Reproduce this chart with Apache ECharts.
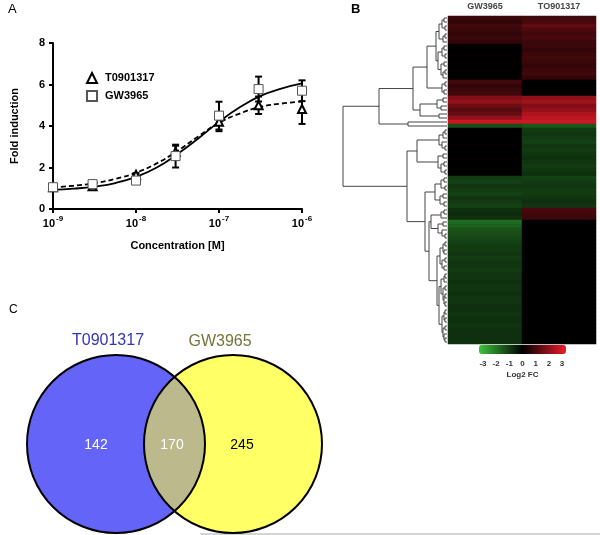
<!DOCTYPE html>
<html><head><meta charset="utf-8">
<script src="https://cdn.jsdelivr.net/npm/echarts@6/dist/echarts.min.js"></script>
<style>html,body{margin:0;padding:0;background:#fff}#c{width:600px;height:535px}</style>
</head><body><div id="c"></div>
<script>
// ---------- Panel A data ----------
const concExp = [-9, -8.523, -8, -7.523, -7, -6.523, -6];
const concTicks = [-9, -8, -7, -6];
const t09Mean = [1.05, 1.1, 1.65, 2.75, 4.2, 5.0, 4.82];
const t09Sem  = [0.05, 0.05, 0.08, 0.3, 0.45, 0.42, 0.72];
const gwMean  = [1.05, 1.2, 1.37, 2.55, 4.5, 5.78, 5.7];
const gwSem   = [0.05, 0.05, 0.05, 0.55, 0.67, 0.6, 0.5];
const fitExp  = [-9, -8.75, -8.5, -8.25, -8, -7.75, -7.5, -7.25, -7, -6.75, -6.5, -6.25, -6];
const gwFit   = [0.92, 0.98, 1.08, 1.25, 1.55, 2.0, 2.65, 3.4, 4.2, 4.9, 5.45, 5.8, 6.05];
const t09Fit  = [1.05, 1.12, 1.25, 1.45, 1.75, 2.2, 2.8, 3.5, 4.15, 4.6, 4.92, 5.08, 5.17];

// ---------- Panel B data ----------
const heatCols = ['GW3965', 'TO901317'];
const gwLog2 = [0.8,0.7,0.9,0.8,0.7,0.8,0.7,
  0.05,0,0.05,0,0.05,0,0.05,0,0.05,
  0.9,0.7,0.8,0.9,
  1.8,2.0,1.5,1.2,1.4,2.0,
  2.8,-1.3,
  0,0.05,0,0,0.05,0,0,0.05,0,0,0.05,0,
  -1.0,-1.1,-0.9,-1.0,-1.1,-0.9,-1.0,-1.1,
  -0.8,-0.7,-0.8,
  -1.8,-1.6,-1.4,-1.3,-1.2,
  -1.1,-1.0,-1.0,-0.9,-1.0,-0.9,-0.9,-1.0,-0.9,-0.9,-0.8,-0.9,-0.9,-0.8,-0.9,-0.9,-0.8,-0.8,-0.9,-0.8,-0.8,-0.9,-0.8,-0.8,-0.8,-0.8];
const toLog2 = [0.9,1.0,1.3,1.1,0.9,1.0,0.8,
  0.8,0.7,0.8,0.9,0.8,0.7,0.8,0.9,0.7,
  0.05,0,0.05,0,
  2.0,2.2,1.8,2.0,2.4,2.6,
  2.8,-1.5,
  -1.0,-0.9,-1.0,-1.1,-0.9,-1.0,-0.9,-0.8,-0.9,-1.0,-0.9,-0.8,
  -1.1,-1.0,-0.9,-1.0,-1.0,-0.9,-0.8,-0.9,
  1.0,0.9,0.8,
  0,0,0,0,0,
  0,0,0,0,0,0,0,0,0,0,0,0,0,0,0,0,0,0,0,0,0,0,0,0,0,0];
// dendrogram: [height, left, right], leaves = row index
const dendroTree = [104,
  [68,
    [34,
      [20,
        [11,
          [8,[5,[3,0,1],[2,2,3]],[4,[2,4,5],6]],
          [9,[5,[3,7,8],[2,9,10]],[6,[3,11,12],[4,[2,13,14],15]]]],
        [5,[2,16,17],[3,18,19]]],
      [27,[10,[4,20,21],[6,22,23]],[8,24,25]]],
    [39,26,27]],
  [40,
    [30,
      [8,[4,[2,28,29],30],[5,31,[2,32,33]]],
      [9,[4,34,35],[6,[3,36,37],[2,38,39]]]],
    [22,
      [12,[6,[3,40,41],[2,42,43]],[7,[4,44,45],[3,46,47]]],
      [18,
        [16,[6,[3,48,49],50],[9,[4,51,52],[5,53,[2,54,55]]]],
        [10,
          [7,[4,[2,56,57],[3,58,59]],[5,[2,60,61],[3,62,63]]],
          [8,
            [6,[3,[2,64,65],66],[4,[2,67,68],[3,[2,69,70],[2,71,72]]]],
            [5,[3,[2,73,74],[2,75,76]],[4,[2,77,78],[3,79,[2,80,81]]]]]]]]]];
const colorTicks = [-3, -2, -1, 0, 1, 2, 3];

// ---------- Panel C data ----------
const vennSets = ['T0901317', 'GW3965'];
const vennCounts = [142, 170, 245]; // T0901317 only, shared, GW3965 only

const F = '"Liberation Sans", Arial, sans-serif';
const nRows = gwLog2.length;

const heatData = [];
for (let i = 0; i < nRows; i++) {
  heatData.push([0, i, gwLog2[i]]);
  heatData.push([1, i, toLog2[i]]);
}
const segs = [];
function place(node) {
  if (typeof node === 'number') return {y: node + 0.5, h: 0};
  const h = node[0], L = place(node[1]), R = place(node[2]);
  segs.push([h, L.y, L.h, L.y]);
  segs.push([h, R.y, R.h, R.y]);
  segs.push([h, L.y, h, R.y]);
  return {y: (L.y + R.y) / 2, h: h};
}
place(dendroTree);

const chart = echarts.init(document.getElementById('c'));
const hidden = {show: false};
const option = {
  animation: false,
  backgroundColor: '#fff',
  textStyle: {fontFamily: F},
  grid: [
    {left: 53, top: 43, width: 249, height: 166},
    {left: 448, top: 16, width: 148, height: 328},
    {left: 340, top: 16, width: 107, height: 328},
    {left: 479, top: 345, width: 87, height: 9},
    {left: 0, top: 290, width: 300, height: 245}
  ],
  xAxis: [
    {gridIndex: 0, type: 'value', min: -9, max: -6, interval: 1,
     axisLine: {lineStyle: {color: '#000', width: 2}},
     axisTick: {length: 4, lineStyle: {color: '#000', width: 2}},
     splitLine: hidden,
     axisLabel: {margin: 6, formatter: v => '{b|10}{s|' + v + '}',
       rich: {b: {fontSize: 11, fontWeight: 'bold', color: '#000', fontFamily: F, lineHeight: 14, verticalAlign: 'bottom'},
              s: {fontSize: 8, fontWeight: 'bold', color: '#000', fontFamily: F, lineHeight: 14, verticalAlign: 'top', padding: [0, 0, 0, 1]}}},
     name: 'Concentration [M]', nameLocation: 'middle', nameGap: 31,
     nameTextStyle: {fontSize: 11, fontWeight: 'bold', color: '#000', fontFamily: F}},
    {gridIndex: 1, type: 'category', data: heatCols, position: 'top',
     axisLine: hidden, axisTick: hidden,
     axisLabel: {margin: 5, fontSize: 9, fontWeight: 'bold', color: '#444', fontFamily: F}},
    {gridIndex: 2, type: 'value', min: 0, max: 107, inverse: true, show: false},
    {gridIndex: 3, type: 'value', min: -3.3, max: 3.3,
     axisLine: hidden, axisTick: hidden, splitLine: hidden,
     axisLabel: {margin: 6, fontSize: 8, fontWeight: 'bold', color: '#333', fontFamily: F, customValues: colorTicks},
     name: 'Log2 FC', nameLocation: 'middle', nameGap: 17,
     nameTextStyle: {fontSize: 8, fontWeight: 'bold', color: '#333', fontFamily: F}},
    {gridIndex: 4, type: 'value', min: 0, max: 300, show: false}
  ],
  yAxis: [
    {gridIndex: 0, type: 'value', min: 0, max: 8, interval: 2,
     axisLine: {show: true, lineStyle: {color: '#000', width: 2}},
     axisTick: {show: true, length: 4, lineStyle: {color: '#000', width: 2}},
     splitLine: hidden,
     axisLabel: {margin: 8, fontSize: 11, fontWeight: 'bold', color: '#000', fontFamily: F},
     name: 'Fold induction', nameLocation: 'middle', nameGap: 33,
     nameTextStyle: {fontSize: 11, fontWeight: 'bold', color: '#000', fontFamily: F}},
    {gridIndex: 1, type: 'category', data: gwLog2.map((v, i) => String(i)), inverse: true, show: false},
    {gridIndex: 2, type: 'value', min: 0, max: nRows, inverse: true, show: false},
    {gridIndex: 3, type: 'value', min: 0, max: 1, show: false},
    {gridIndex: 4, type: 'value', min: 0, max: 245, inverse: true, show: false}
  ],
  legend: {
    left: 81, top: 67, orient: 'vertical', itemGap: 6, itemWidth: 10, itemHeight: 10,
    data: ['T0901317', 'GW3965'],
    textStyle: {fontSize: 11, fontWeight: 'bold', color: '#000', fontFamily: F, padding: [0, 0, 0, 3]}
  },
  visualMap: {
    type: 'continuous', seriesIndex: 5, dimension: 2, min: -3.3, max: 3.3,
    orient: 'horizontal', left: 474, top: 340, itemWidth: 9, itemHeight: 87,
    calculable: false, text: null, padding: 5,
    inRange: {color: ['#3cc43c', '#000000', '#ee1c2a']}
  },
  series: [
    {type: 'line', xAxisIndex: 0, yAxisIndex: 0, data: fitExp.map((x, i) => [x, gwFit[i]]),
     smooth: true, showSymbol: false, symbol: 'none', lineStyle: {color: '#000', width: 1.8}, z: 2},
    {type: 'line', xAxisIndex: 0, yAxisIndex: 0, data: fitExp.map((x, i) => [x, t09Fit[i]]),
     smooth: true, showSymbol: false, symbol: 'none', lineStyle: {color: '#000', width: 1.8, type: [5, 3]}, z: 2},
    {type: 'custom', xAxisIndex: 0, yAxisIndex: 0, z: 3,
     data: concExp.map((x, i) => [x, t09Mean[i] - t09Sem[i], t09Mean[i] + t09Sem[i]])
       .concat(concExp.map((x, i) => [x, gwMean[i] - gwSem[i], gwMean[i] + gwSem[i]])),
     renderItem: function (params, api) {
       const lo = api.coord([api.value(0), api.value(1)]);
       const hi = api.coord([api.value(0), api.value(2)]);
       const st = {stroke: '#000', lineWidth: 2};
       return {type: 'group', children: [
         {type: 'line', shape: {x1: lo[0], y1: lo[1], x2: hi[0], y2: hi[1]}, style: st},
         {type: 'line', shape: {x1: lo[0] - 3.5, y1: lo[1], x2: lo[0] + 3.5, y2: lo[1]}, style: st},
         {type: 'line', shape: {x1: hi[0] - 3.5, y1: hi[1], x2: hi[0] + 3.5, y2: hi[1]}, style: st}
       ]};
     }},
    {type: 'scatter', name: 'T0901317', xAxisIndex: 0, yAxisIndex: 0, z: 5,
     data: concExp.map((x, i) => [x, t09Mean[i]]), symbol: 'triangle', symbolSize: 8,
     itemStyle: {color: '#fff', borderColor: '#000', borderWidth: 2, opacity: 1}},
    {type: 'scatter', name: 'GW3965', xAxisIndex: 0, yAxisIndex: 0, z: 6,
     data: concExp.map((x, i) => [x, gwMean[i]]), symbol: 'rect', symbolSize: 9,
     itemStyle: {color: '#fff', borderColor: '#555', borderWidth: 1, opacity: 1}},
    {type: 'heatmap', xAxisIndex: 1, yAxisIndex: 1, data: heatData, itemStyle: {borderWidth: 0}},
    {type: 'custom', xAxisIndex: 2, yAxisIndex: 2, data: segs, silent: true,
     renderItem: function (params, api) {
       const a = api.coord([api.value(0), api.value(1)]);
       const b = api.coord([api.value(2), api.value(3)]);
       return {type: 'line', shape: {x1: a[0], y1: a[1], x2: b[0], y2: b[1]},
               style: {stroke: '#444', lineWidth: 1}};
     }},
    {type: 'custom', xAxisIndex: 4, yAxisIndex: 4, data: [[0]], silent: true,
     renderItem: function (params, api) {
       const c1 = api.coord([116, 154]), c2 = api.coord([233, 154]);
       const r = api.size([89, 0])[0];
       const d = c2[0] - c1[0], a = d / 2, h = Math.sqrt(r * r - a * a);
       const px = c1[0] + a, t = c1[1] - h, b = c1[1] + h;
       const lens = 'M' + px + ' ' + t + ' A' + r + ' ' + r + ' 0 0 1 ' + px + ' ' + b +
                    ' A' + r + ' ' + r + ' 0 0 1 ' + px + ' ' + t + ' Z';
       const p = (x, y) => api.coord([x, y]);
       const ts = (txt, q, col, size) => ({type: 'text', x: q[0], y: q[1],
         style: {text: txt, fill: col, font: size + 'px ' + F, align: 'center', verticalAlign: 'middle'}});
       return {type: 'group', children: [
         {type: 'circle', shape: {cx: c1[0], cy: c1[1], r: r}, style: {fill: '#6464f8'}},
         {type: 'circle', shape: {cx: c2[0], cy: c2[1], r: r}, style: {fill: '#ffff66'}},
         {type: 'path', shape: {pathData: lens}, style: {fill: '#bcba8c'}},
         {type: 'circle', shape: {cx: c1[0], cy: c1[1], r: r}, style: {fill: null, stroke: '#000', lineWidth: 2}},
         {type: 'circle', shape: {cx: c2[0], cy: c2[1], r: r}, style: {fill: null, stroke: '#000', lineWidth: 2}},
         ts(vennSets[0], p(108, 51), '#3434b4', 16),
         ts(vennSets[1], p(220, 52), '#74743a', 16),
         ts(String(vennCounts[0]), p(96, 155), '#fff', 14),
         ts(String(vennCounts[1]), p(172, 155), '#fff', 14),
         ts(String(vennCounts[2]), p(242, 155), '#000', 14)
       ]};
     }}
  ],
  graphic: [
    {type: 'text', left: 8, top: 3, style: {text: 'A', font: '13px ' + F, fill: '#000'}},
    {type: 'text', left: 351, top: 3, style: {text: 'B', font: 'bold 13px ' + F, fill: '#000'}},
    {type: 'text', left: 9, top: 304, style: {text: 'C', font: '12px ' + F, fill: '#000'}},
    {type: 'line', shape: {x1: 200, y1: 534, x2: 600, y2: 534}, style: {stroke: '#aaa', lineWidth: 1}}
  ]
};
chart.setOption(option);
</script></body></html>
